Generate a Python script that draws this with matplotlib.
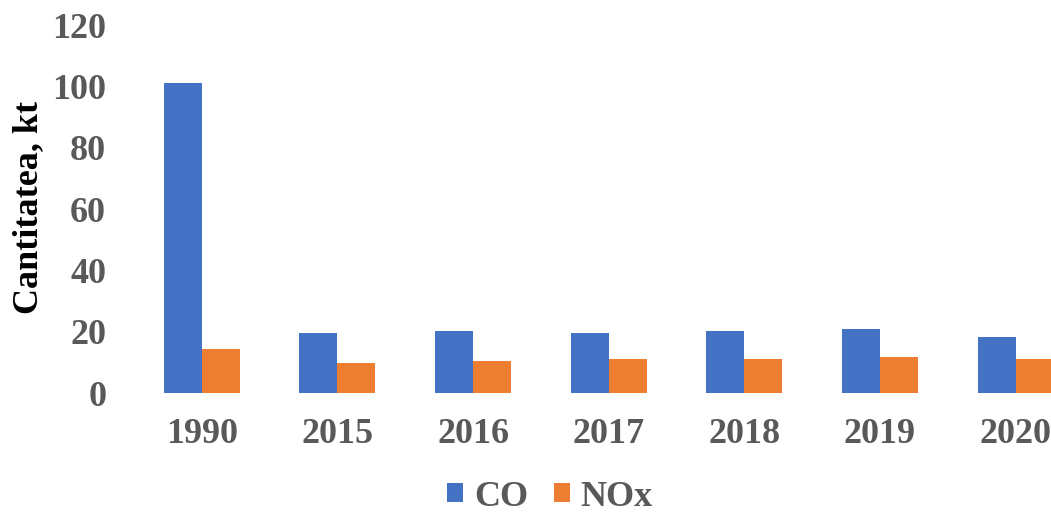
import numpy as np
import matplotlib.pyplot as plt

years = ['1990', '2015', '2016', '2017', '2018', '2019', '2020']
co = [101.1, 19.6, 20.2, 19.6, 20.2, 20.9, 18.3]
nox = [14.3, 9.8, 10.4, 11.1, 11.1, 11.7, 11.1]

plt.rcParams['font.family'] = ['Liberation Serif', 'DejaVu Serif']
plt.rcParams['font.weight'] = 'bold'

fig = plt.figure(figsize=(10.51, 5.17), dpi=100)
ax = fig.add_axes([134/1051, 124/517, (1051-134)/1051, 368/517])

x = np.arange(len(years))
w = 0.28
ax.bar(x - w/2, co, w, color='#4472C4', label='CO')
ax.bar(x + w/2, nox, w, color='#ED7D31', label='NOx')

ax.set_xlim(-0.5, (1051-202)/135.6)
ax.set_ylim(0, 120)
ax.set_yticks(range(0, 121, 20))
ax.set_xticks(x)
ax.set_xticklabels(years)
for s in ax.spines.values():
    s.set_visible(False)
ax.tick_params(length=0, labelsize=26, colors='#595959', pad=20)
ax.tick_params(axis='x', pad=18)
ax.set_ylabel('Cantitatea, kt', fontsize=26, fontweight='bold', color='black')
ax.yaxis.set_label_coords(-0.097, 0.505)

fig.legend(loc='center', bbox_to_anchor=(550/1051, 1-497/517), ncol=2, frameon=False,
           fontsize=26, handlelength=0.45, handleheight=0.45, handletextpad=0.3,
           columnspacing=0.7, labelcolor='#595959')

fig.savefig('out.png', dpi=100)
